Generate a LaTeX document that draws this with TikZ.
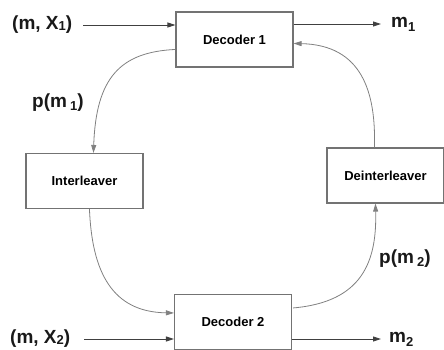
\documentclass[tikz,border=0pt]{standalone}
\usepackage{fontspec}
\setmainfont{Liberation Sans}
\usetikzlibrary{arrows.meta,calc}
\newcommand\lowsub[2]{\raisebox{-#2}{\fontsize{13}{13}\selectfont #1}}
\begin{document}
\begin{tikzpicture}[x=1pt,y=-1pt,
  blk/.style={draw=black!55,line width=1.1pt,fill=white,minimum width=117pt,minimum height=55pt,inner sep=0pt,font=\fontsize{13}{13}\selectfont\bfseries},
  lbl/.style={inner sep=0pt,font=\fontsize{19}{19}\selectfont\bfseries,text=black!90},
  sarr/.style={draw=black!75,line width=0.9pt,-{Triangle[length=8pt,width=5pt]}},
  carr/.style={draw=black!50,line width=0.8pt,-{Triangle[length=8pt,width=5pt]}}]
\useasboundingbox (0,0) rectangle (444,349);
\begin{scope}
\clip (0,0) rectangle (444,349);
\node[blk] (dec1) at (234.5,39.5) {Decoder 1};
\node[blk] (dec2) at (233,322) {Decoder 2};
\node[blk] (inter) at (84.5,181) {Interleaver};
\node[blk] (deint) at (385.5,175.5) {Deinterleaver};

\node[lbl,anchor=west] (in1) at (12,25) {(m, X\lowsub{1}{1pt})};
\node[lbl,anchor=west] (in2) at (10,339) {(m, X\lowsub{2}{1pt})};
\node[lbl,anchor=west] (out1) at (391,24) {m\lowsub{1}{4pt}};
\node[lbl,anchor=west] (out2) at (389,339) {m\lowsub{2}{4pt}};
\node[lbl,anchor=west] (p1) at (32,103) {p(m\,\lowsub{1}{3pt})};
\node[lbl,anchor=west] (p2) at (379,259) {p(m\,\lowsub{2}{3pt})};

\coordinate (o1) at (381,24);
\coordinate (o2) at (381,339);

\draw[sarr,shorten <=11pt] (in1.east) -- (dec1.west |- in1.east);
\draw[sarr,shorten <=14pt] (in2.east) -- (dec2.west |- in2.east);
\draw[sarr] (dec1.east |- o1) -- (o1);
\draw[sarr] (dec2.east |- o2) -- (o2);

\draw[carr] ($(dec1.north west)+(0,38)$) .. controls (120,52) and (96,78) .. ($(inter.north west)+(68,0)$);
\draw[carr] ($(inter.south west)+(64,0)$) .. controls (92,272) and (112,312) .. ($(dec2.north west)+(0,19)$);
\draw[carr] ($(dec2.north east)+(1,14)$) .. controls (362,302) and (377,262) .. ($(deint.south west)+(49,0)$);
\draw[carr] ($(deint.north west)+(48,0)$) .. controls (376,92) and (362,45) .. ($(dec1.north east)+(0,32)$);
\end{scope}
\end{tikzpicture}
\end{document}
